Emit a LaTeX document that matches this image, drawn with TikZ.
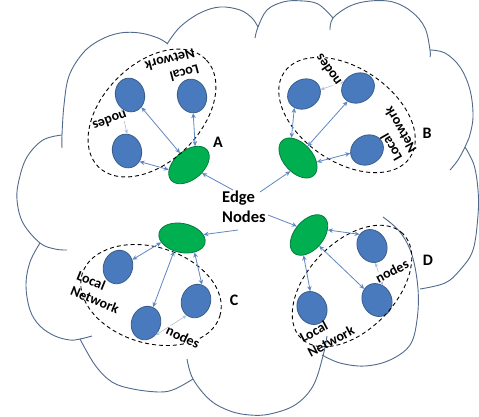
\documentclass[tikz,border=0pt]{standalone}
\usepackage{fontspec}
\setmainfont{Carlito}
\usetikzlibrary{shapes.geometric,arrows.meta}
\definecolor{cloudc}{RGB}{80,105,140}
\definecolor{bluef}{RGB}{74,122,190}
\definecolor{blued}{RGB}{56,93,138}
\definecolor{greenf}{RGB}{0,176,80}
\definecolor{greend}{RGB}{0,125,60}
\definecolor{linkc}{RGB}{95,135,195}
\definecolor{faintc}{RGB}{175,190,215}
\tikzset{
  cloudline/.style={draw=cloudc, line width=0.9pt, smooth, tension=0.6},
  bluenode/.style={ellipse, fill=bluef, draw=blued, line width=0.8pt, minimum width=29pt, minimum height=34pt, inner sep=0pt},
  greennode/.style={ellipse, fill=greenf, draw=greend, line width=0.8pt, minimum width=47pt, minimum height=29pt, inner sep=0pt},
  netring/.style={ellipse, draw=black, dash pattern=on 4pt off 3pt, line width=0.9pt, inner sep=0pt},
  link/.style={{Stealth[length=5pt,width=4.5pt]}-{Stealth[length=5pt,width=4.5pt]}, draw=linkc, line width=0.8pt},
  feed/.style={-{Stealth[length=5pt,width=4.5pt]}, draw=linkc, line width=0.8pt},
  faint/.style={{Stealth[length=4pt,width=3.5pt]}-{Stealth[length=4pt,width=3.5pt]}, draw=faintc, line width=0.6pt},
  grouptext/.style={font=\bfseries\fontsize{14}{16.5}\selectfont, align=left, inner sep=0pt},
  nodestext/.style={font=\bfseries\fontsize{14}{16.5}\selectfont, fill=white, inner sep=0pt},
  lbl/.style={font=\bfseries\fontsize{16}{19}\selectfont, inner sep=0pt},
  edgetext/.style={font=\bfseries\fontsize{16.5}{20.5}\selectfont, align=left, inner sep=0pt}
}
\begin{document}
\begin{tikzpicture}[x=1pt,y=-1pt]
\useasboundingbox[fill=white] (0,0) rectangle (479,416);
% cloud outline
\draw[cloudline] plot coordinates {(62,148) (62,135) (64,105) (69,76) (83,53) (100,40) (120,33) (140,33) (158,38) (168,44)};
\draw[cloudline] plot coordinates {(167,44) (180,27) (200,13) (220,7) (240,10) (252,18) (258,27)};
\draw[cloudline] plot coordinates {(255,38) (258,27) (267,10) (283,2) (300,0.8) (318,4) (333,18)};
\draw[cloudline] plot coordinates {(330,30) (333,18) (350,6) (370,1) (393,2) (412,12) (425,28) (430,50) (430,57)};
\draw[cloudline] plot coordinates {(430,50) (445,53) (460,67) (470,90) (473,117) (469,138) (465,147) (458,160) (450,170)};
\draw[cloudline] plot coordinates {(465,147) (474,165) (478,190) (478,215) (473,250) (460,270) (445,283) (420,289)};
\draw[cloudline] plot coordinates {(383,217) (400,232) (412,255) (418,289) (417,320) (410,345) (390,360) (365,366) (340,363) (322,355)};
\draw[cloudline] plot coordinates {(327,336) (323,356) (313,386) (295,405) (270,414) (250,415) (230,411) (210,400) (193,379) (187,359)};
\draw[cloudline] plot coordinates {(193,379) (175,389) (160,392) (133,389) (112,382) (95,365) (80,339)};
\draw[cloudline] plot coordinates {(40,243) (30,262) (26,285) (30,310) (40,326) (55,336) (70,340) (80,339) (92,336)};
\draw[cloudline] plot coordinates {(62,135) (43,140) (27,157) (19,180) (17,200) (23,223) (40,243) (55,249) (67,250)};
% group A
\node[greennode, rotate=40] (gA) at (189,165) {};
\node[bluenode, rotate=15] (A1) at (130,95) {};
\node[bluenode, rotate=15] (A2) at (192,96) {};
\node[bluenode, rotate=15] (A3) at (127,151) {};
\node[netring, minimum width=152pt, minimum height=98pt, rotate=45] (rA) at (152,113) {};
% group B
\node[greennode, rotate=-48] (gB) at (298,158) {};
\node[bluenode, rotate=-60] (B1) at (304,94) {};
\node[bluenode, rotate=-60] (B2) at (358,88) {};
\node[bluenode, rotate=-60] (B3) at (367,150) {};
\node[netring, minimum width=152pt, minimum height=94pt, rotate=-34] (rB) at (347,115) {};
% group C
\node[greennode, rotate=-12] (gC) at (182,238) {};
\node[bluenode, rotate=-20] (C1) at (118,267) {};
\node[bluenode, rotate=-20] (C2) at (146,323) {};
\node[bluenode, rotate=-20] (C3) at (196,301) {};
\node[netring, minimum width=144pt, minimum height=96pt, rotate=-17] (rC) at (151,295) {};
% group D
\node[greennode, rotate=50] (gD) at (309,235) {};
\node[bluenode, rotate=28] (D1) at (372,246) {};
\node[bluenode, rotate=28] (D2) at (377,300) {};
\node[bluenode, rotate=28] (D3) at (312,308) {};
\node[netring, minimum width=146pt, minimum height=88pt, rotate=46] (rD) at (352,286) {};
% free ends near the Edge Nodes text
\coordinate (eA) at (233,190);
\coordinate (eB) at (260,192);
\coordinate (eC) at (238,230);
\coordinate (eD) at (268,215);
% links A
\draw[link] (A3.-55) -- (gA.153);
\draw[link] (A1.-62) -- (gA.87);
\draw[link] (A2.-101) -- (gA.32);
\draw[feed] (eA) -- (gA.-72);
\draw[faint] (A1.224) -- (A3.75);
% links B
\draw[link] (B1.-65) -- (gB.156);
\draw[link] (B2.-68) -- (gB.99);
\draw[link] (B3.-109) -- (gB.36);
\draw[feed] (eB) -- (gB.-72);
\draw[faint] (B2.216) -- (B1.75);
% links C
\draw[link] (C1.47) -- (gC.204);
\draw[link] (C2.86) -- (gC.251);
\draw[link] (C3.90) -- (gC.-37);
\draw[feed] (eC) -- (gC.21);
\draw[faint] (C2.-31) -- (C3.257);
% links D
\draw[link] (D1.109) -- (gD.-35);
\draw[link] (D2.111) -- (gD.-97);
\draw[link] (D3.68) -- (gD.205);
\draw[feed] (eD) -- (gD.94);
\draw[faint] (D1.-107) -- (D2.41);
% texts
\node[grouptext, rotate=195] (tA) at (172,68) {Local\\Network};
\node[nodestext, rotate=200] (nA) at (110,121) {nodes};
\node[grouptext, rotate=120] (tB) at (393,134) {Local\\Network};
\node[nodestext, rotate=125] (nB) at (328,70) {nodes};
\node[grouptext, rotate=-22] (tC) at (98,292) {Local\\Network};
\node[nodestext, rotate=-25] (nC) at (183,337) {nodes};
\node[grouptext, rotate=28] (tD) at (327,334) {Local\\Network};
\node[nodestext, rotate=27] (nD) at (392,271) {nodes};
\node[lbl] (lA) at (218,142) {A};
\node[lbl] (lB) at (427,133) {B};
\node[lbl] (lC) at (234,300) {C};
\node[lbl] (lD) at (428,260) {D};
\node[edgetext, anchor=west] (en) at (222,207) {Edge\\Nodes};
\end{tikzpicture}
\end{document}
